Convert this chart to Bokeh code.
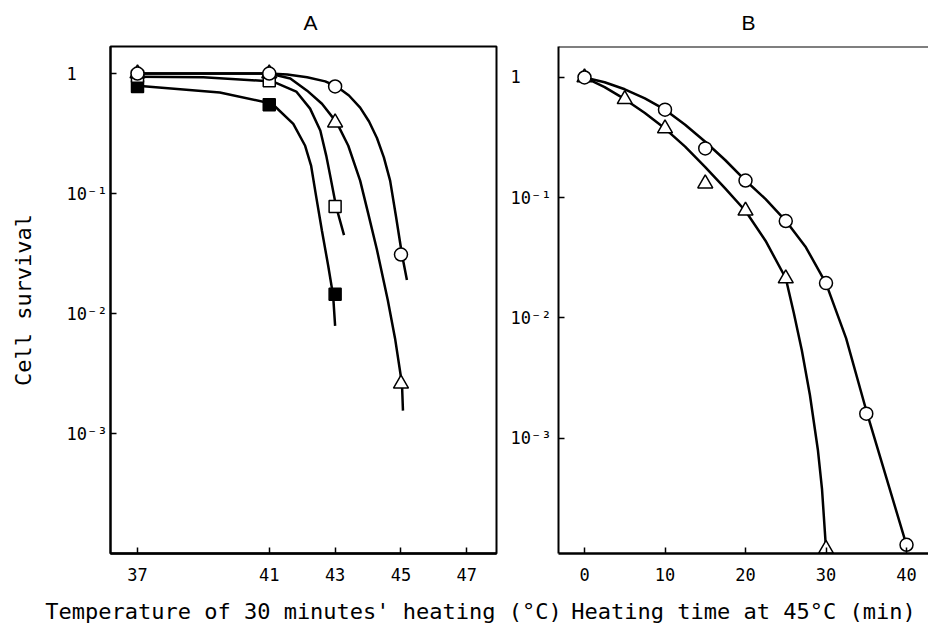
from bokeh.plotting import figure
from bokeh.layouts import row
from bokeh.models import FixedTicker, Range1d, Span
from bokeh.embed import file_html
from bokeh.resources import INLINE

MONO = "DejaVu Sans Mono"
SANS = "Liberation Sans"

# ---------------- Panel A : temperature of 30 minutes' heating ----------------
temp_ticks = [37, 41, 43, 45, 47]

a_circle_x = [37, 41, 43, 45]
a_circle_y = [1.0, 1.0, 0.78, 0.031]
a_tri_x = [37, 41, 43, 45]
a_tri_y = [1.0, 1.0, 0.39, 0.0026]
a_osq_x = [37, 41, 43]
a_osq_y = [0.95, 0.87, 0.078]
a_fsq_x = [37, 41, 43]
a_fsq_y = [0.78, 0.55, 0.0145]

# hand-drawn fitted curves
a_circle_curve_x = [37, 39, 41, 41.55, 42.15, 42.7, 43.05, 43.42, 43.76, 44.03, 44.27, 44.48,
                    44.67, 44.85, 45.03, 45.18]
a_circle_curve_y = [1.0, 1.0, 1.0, 0.98, 0.93, 0.86, 0.78, 0.656, 0.52, 0.398, 0.29, 0.2,
                    0.128, 0.064, 0.031, 0.019]
a_tri_curve_x = [37, 39, 41, 41.64, 42.15, 42.6, 43.05, 43.4, 43.76, 44.0, 44.27, 44.6, 44.82,
                 45.03, 45.06]
a_tri_curve_y = [1.0, 1.0, 1.0, 0.91, 0.72, 0.56, 0.39, 0.25, 0.128, 0.069, 0.034, 0.0129,
                 0.0062, 0.0026, 0.00155]
a_osq_curve_x = [37, 39, 41.1, 41.82, 42.24, 42.55, 42.73, 42.85, 43.03, 43.27]
a_osq_curve_y = [0.94, 0.93, 0.86, 0.708, 0.51, 0.335, 0.207, 0.141, 0.078, 0.045]
a_fsq_curve_x = [37, 39.5, 41.09, 41.73, 42.09, 42.27, 42.42, 42.6, 42.79, 42.94, 43.0]
a_fsq_curve_y = [0.79, 0.695, 0.56, 0.38, 0.25, 0.171, 0.096, 0.049, 0.025, 0.0141, 0.0079]

# ---------------- Panel B : heating time at 45 C ----------------
time_ticks = [0, 10, 20, 30, 40]

b_circle_x = [0, 10, 15, 20, 25, 30, 35, 40]
b_circle_y = [1.0, 0.54, 0.257, 0.139, 0.064, 0.0195, 0.0016, 1.3e-4]
b_tri_x = [0, 5, 10, 15, 20, 25, 30]
b_tri_y = [1.0, 0.66, 0.377, 0.131, 0.078, 0.0213, 1.2e-4]

b_circle_curve_x = [0, 2.5, 5, 7.5, 10, 12.5, 15, 17.5, 20, 22.5, 25, 27.5, 30, 32.5, 35, 37.5, 40]
b_circle_curve_y = [1.0, 0.912, 0.798, 0.67, 0.54, 0.405, 0.292, 0.205, 0.139, 0.0973, 0.0643,
                    0.0387, 0.0194, 0.00676, 0.0017, 4.68e-4, 1.29e-4]
b_tri_curve_x = [0, 2.5, 5, 7.5, 10, 12.5, 15, 17.5, 20, 22.5, 25, 26, 27, 28, 29, 29.5, 30]
b_tri_curve_y = [1.0, 0.832, 0.66, 0.507, 0.376, 0.266, 0.18, 0.119, 0.0776, 0.0437, 0.0214,
                 0.011, 0.00537, 0.00229, 7.9e-4, 3.8e-4, 1.2e-4]

surv_ticks = [1, 0.1, 0.01, 0.001]
surv_labels = ["1\u00a0\u00a0\u00a0", "10\u207b\u00b9", "10\u207b\u00b2", "10\u207b\u00b3"]

A_YMIN, A_YMAX = 1.0e-4, 1.68
B_YMIN, B_YMAX = 1.1e-4, 1.81


def style(p, xticks, label_standoff):
    p.grid.visible = False
    p.background_fill_color = "white"
    p.xaxis.ticker = FixedTicker(ticks=xticks)
    p.yaxis.ticker = FixedTicker(ticks=surv_ticks)
    p.yaxis.major_label_overrides = dict(zip(surv_ticks, surv_labels))
    for ax in p.axis:
        ax.major_tick_in = 6
        ax.major_tick_out = 0
        ax.minor_tick_in = 0
        ax.minor_tick_out = 0
        ax.minor_tick_line_color = None
        ax.major_tick_line_color = "black"
        ax.major_tick_line_width = 1.5
        ax.axis_line_color = "black"
        ax.major_label_text_font = MONO
        ax.major_label_text_font_size = "17px"
        ax.major_label_text_color = "black"
        ax.axis_label_text_font = MONO
        ax.axis_label_text_font_size = "22px"
        ax.axis_label_text_font_style = "normal"
        ax.axis_label_text_color = "black"
    p.xaxis.axis_line_width = 2.5
    p.yaxis.axis_line_width = 2
    p.xaxis.major_label_standoff = 14
    p.xaxis.axis_label_standoff = 15
    p.yaxis.major_label_standoff = label_standoff
    p.title.text_font = SANS
    p.title.text_font_size = "21px"
    p.title.text_font_style = "normal"
    p.title.text_color = "black"
    p.title.align = "left"
    p.title.vertical_align = "top"
    p.title.standoff = 21


# ---------------- figure A ----------------
pA = figure(width=580, height=630, title="A",
            x_range=Range1d(36.18, 47.9), y_range=Range1d(A_YMIN, A_YMAX),
            y_axis_type="log", output_backend="svg", toolbar_location=None,
            min_border_left=110, min_border_right=84, min_border_top=46, min_border_bottom=77)
style(pA, temp_ticks, 3)
pA.title.offset = 193
pA.outline_line_color = "black"
pA.outline_line_width = 2
pA.outline_line_alpha = 1
pA.xaxis.axis_label = "Temperature of 30 minutes' heating (\u00b0C)"
pA.yaxis.axis_label = "Cell survival"
pA.yaxis.axis_label_standoff = 28

LW = 2.5
for cx, cy in [(a_circle_curve_x, a_circle_curve_y), (a_tri_curve_x, a_tri_curve_y),
               (a_osq_curve_x, a_osq_curve_y), (a_fsq_curve_x, a_fsq_curve_y)]:
    pA.line(cx, cy, line_color="black", line_width=LW)

pA.scatter(a_fsq_x, a_fsq_y, marker="square", size=12, fill_color="black",
           line_color="black", line_width=1.5)
pA.scatter(a_osq_x, a_osq_y, marker="square", size=12, fill_color="white",
           line_color="black", line_width=1.5)
pA.scatter(a_tri_x, a_tri_y, marker="triangle", size=15, fill_color="white",
           line_color="black", line_width=1.5)
pA.scatter(a_circle_x, a_circle_y, marker="circle", size=13, fill_color="white",
           line_color="black", line_width=1.5)

# ---------------- figure B ----------------
pB = figure(width=430, height=630, title="B",
            x_range=Range1d(-3.23, 42.73), y_range=Range1d(B_YMIN, B_YMAX),
            y_axis_type="log", output_backend="svg", toolbar_location=None,
            min_border_left=60, min_border_right=0, min_border_top=46, min_border_bottom=77)
style(pB, time_ticks, 7)
pB.title.offset = 183
pB.margin = (0, 0, 0, -82)
pB.border_fill_alpha = 0
pB.outline_line_color = None
pB.add_layout(Span(location=B_YMAX, dimension="width", line_color="black", line_width=2))
pB.xaxis.axis_label = "Heating time at 45\u00b0C (min)"

pB.line(b_circle_curve_x, b_circle_curve_y, line_color="black", line_width=LW)
pB.line(b_tri_curve_x, b_tri_curve_y, line_color="black", line_width=LW)
pB.scatter(b_tri_x, b_tri_y, marker="triangle", size=15, fill_color="white",
           line_color="black", line_width=1.5)
pB.scatter(b_circle_x, b_circle_y, marker="circle", size=13, fill_color="white",
           line_color="black", line_width=1.5)

layout = row(pA, pB)
open("out.html", "w").write(file_html(layout, INLINE))
